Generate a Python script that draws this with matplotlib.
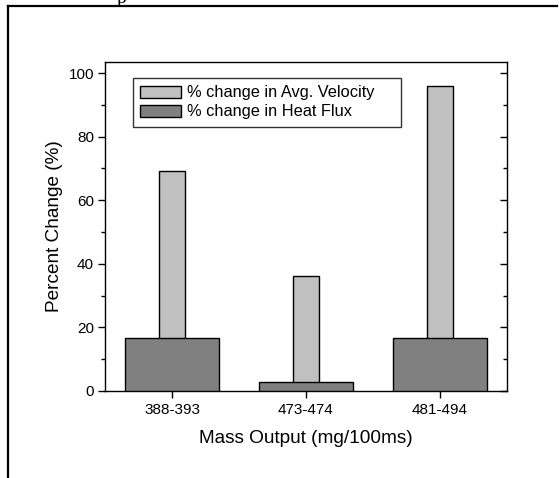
import matplotlib
matplotlib.use("Agg")
import matplotlib.pyplot as plt
from matplotlib.lines import Line2D
from matplotlib.patches import Patch
from matplotlib.ticker import MultipleLocator

categories = ["388-393", "473-474", "481-494"]
velocity_change = [69.2, 36.2, 95.8]
heat_flux_change = [16.8, 2.7, 16.6]
yticks = [0, 20, 40, 60, 80, 100]

plt.rcParams['font.family'] = ['Liberation Sans', 'DejaVu Sans']

W, H = 559, 478
fig = plt.figure(figsize=(W / 100, H / 100), dpi=100)
ax = fig.add_axes([105 / W, 1 - 391 / H, (507 - 105) / W, (391 - 62) / H])

x = [1, 2, 3]
ax.bar(x, velocity_change, width=0.2, color="#c0c0c0", edgecolor="black", linewidth=1.0, zorder=2)
ax.bar(x, heat_flux_change, width=0.7, color="#808080", edgecolor="black", linewidth=1.0, zorder=3)

ax.set_xlim(0.5, 3.5)
ax.set_ylim(0, 103.5)
ax.set_xticks(x)
ax.set_xticklabels(categories)
ax.set_yticks(yticks)
ax.yaxis.set_minor_locator(MultipleLocator(10))

ax.tick_params(axis='y', which='both', direction='out', length=5, width=1, labelsize=11, pad=3)
ax.tick_params(axis='x', which='major', direction='out', length=5, width=1, labelsize=11, pad=4)
ax.tick_params(axis='y', which='minor', length=3)

for s in ax.spines.values():
    s.set_linewidth(1.0)

# mirrored ticks on right (inward)
axr = ax.twinx()
axr.set_ylim(ax.get_ylim())
axr.set_yticks(yticks)
axr.yaxis.set_minor_locator(MultipleLocator(10))
axr.tick_params(axis='y', which='both', direction='in', length=5, width=1, labelright=False)
axr.tick_params(axis='y', which='minor', length=3)
for s in axr.spines.values():
    s.set_visible(False)

ax.set_xlabel("Mass Output (mg/100ms)", fontsize=13.7, labelpad=9)
ax.set_ylabel("Percent Change (%)", fontsize=13.7, labelpad=4)

handles = [Patch(facecolor="#c0c0c0", edgecolor="black", linewidth=1.0),
           Patch(facecolor="#808080", edgecolor="black", linewidth=1.0)]
leg = ax.legend(handles, ["% change in Avg. Velocity", "% change in Heat Flux"],
                loc="upper left", mode="expand",
                bbox_to_anchor=((133 - 105) / 402, 1 - (78 - 62) / 329, (401 - 133) / 402, 0),
                fontsize=11.8, frameon=True, fancybox=False, edgecolor="black",
                borderaxespad=0, handlelength=2.45, handleheight=0.75, handletextpad=0.4,
                labelspacing=0.25, borderpad=0.45)
leg.get_frame().set_linewidth(1.0)
leg.set_zorder(5)

# page borders
fig.add_artist(Line2D([8 / W, 557 / W], [1 - 5.5 / H, 1 - 5.5 / H], color="black", linewidth=1.6))
fig.add_artist(Line2D([8 / W, 8 / W], [0, 1 - 5.5 / H], color="black", linewidth=1.6))
fig.text(117 / W, 1 - 3 / H, "p", fontsize=14, family="Liberation Serif", va="baseline", ha="left")

fig.savefig("out.png", dpi=100)
